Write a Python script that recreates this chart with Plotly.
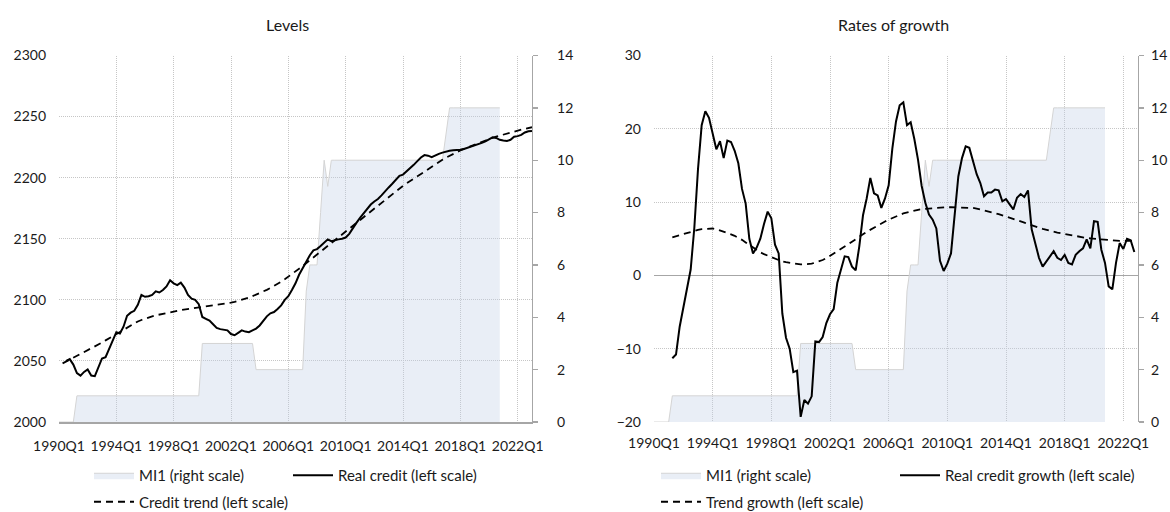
import plotly.graph_objects as go

# ---------------- data ----------------
quarters = [f"{y}Q{q}" for y in range(1990, 2024) for q in range(1, 5)][:133]  # 1990Q1 .. 2023Q1
tick_labels = ["1990Q1", "1994Q1", "1998Q1", "2002Q1", "2006Q1",
               "2010Q1", "2014Q1", "2018Q1", "2022Q1"]

# MI1 index (right scale), 1990Q1 .. 2020Q4
mi1_start = "1990Q1"
mi1 = [0, 0, 0, 0, 0,
       1, 1, 1, 1, 1, 1, 1, 1, 1, 1, 1, 1, 1, 1, 1, 1, 1, 1, 1, 1, 1, 1, 1, 1, 1, 1, 1, 1, 1, 1, 1, 1, 1, 1, 1,
       3, 3, 3, 3, 3, 3, 3, 3, 3, 3, 3, 3, 3, 3, 3,
       2, 2, 2, 2, 2, 2, 2, 2, 2, 2, 2, 2, 2, 2,
       5, 6, 6, 6, 8, 10, 9,
       10, 10, 10, 10, 10, 10, 10, 10, 10, 10, 10, 10, 10, 10, 10, 10,
       10, 10, 10, 10, 10, 10, 10, 10, 10, 10, 10, 10, 10, 10, 10, 10,
       11,
       12, 12, 12, 12, 12, 12, 12, 12, 12, 12, 12, 12, 12, 12, 12]

# Real credit level (left scale), from 1990Q3
real_credit_start = "1990Q3"
real_credit = [2050, 2051.5, 2047, 2040, 2038, 2041, 2043, 2038, 2037.5, 2045,
               2052, 2053, 2060, 2067, 2073.5, 2072.5, 2078, 2087, 2089.5, 2091,
               2096, 2104, 2102.5, 2103, 2104, 2107, 2106, 2108, 2111, 2116,
               2113.5, 2112, 2114, 2110, 2104, 2101, 2100, 2096.5, 2086, 2084.5,
               2083, 2080, 2077, 2076, 2075.5, 2075, 2072, 2071, 2073, 2075,
               2074, 2073.5, 2075, 2076.5, 2079, 2082.5, 2086.5, 2089, 2090, 2092.5,
               2095.5, 2100, 2103, 2108, 2113.5, 2120.5, 2126, 2131, 2136.5, 2140.5,
               2141.5, 2144, 2147, 2149.5, 2148, 2149, 2149.5, 2150, 2151, 2154,
               2159, 2163, 2167, 2170.5, 2174, 2178, 2180.5, 2182.5, 2185.5, 2189,
               2192, 2195, 2198.5, 2201.5, 2202.5, 2205, 2207.5, 2210.5, 2213.5, 2216.5,
               2218.5, 2218, 2216.8, 2218.5, 2219.5, 2220.5, 2221.5, 2222, 2222.5, 2222.5,
               2222.8, 2223.5, 2224.5, 2225, 2226, 2227.2, 2228.5, 2229.8, 2231.5, 2233,
               2232.5, 2231, 2230.4, 2230, 2231, 2233.5, 2234, 2235, 2237, 2238, 2238.3]

# Credit trend level (left scale), from 1990Q2
credit_trend_start = "1990Q2"
credit_trend = [2048.0, 2049.5, 2051, 2052.5, 2054, 2055.5, 2057, 2058.5, 2060, 2061.8,
                2063.5, 2065, 2066.8, 2068.5, 2070.5, 2072.3, 2074, 2075.8, 2077.5, 2079.3,
                2081, 2082.3, 2083.5, 2084.7, 2085.7, 2086.5, 2087.3, 2088, 2088.6, 2089.2,
                2089.8, 2090.4, 2091, 2091.6, 2092, 2092.4, 2092.8, 2093.2, 2093.5, 2093.9,
                2094.3, 2094.7, 2095.1, 2095.5, 2096, 2096.5, 2097.1, 2097.7, 2098.4, 2099.1,
                2100, 2100.9, 2101.8, 2103, 2104.2, 2105.5, 2106.8, 2108.2, 2109.7, 2111.3,
                2113, 2114.8, 2116.8, 2118.8, 2121, 2123.2, 2125.5, 2127.7, 2130, 2132.3,
                2134.7, 2137.1, 2139.5, 2141.8, 2144.3, 2146.7, 2149, 2151.3, 2153.6, 2156,
                2158.3, 2160.6, 2162.9, 2165.2, 2167.6, 2170, 2172.4, 2174.8, 2177.2, 2179.5,
                2181.9, 2184.3, 2186.7, 2189, 2191.2, 2193.3, 2195.3, 2197.3, 2199.2, 2201.2,
                2203.2, 2205.2, 2207.2, 2209.1, 2211, 2212.8, 2214.6, 2216.4, 2218, 2219.5,
                2220.9, 2222.3, 2223.6, 2224.8, 2226, 2227.2, 2228.3, 2229.4, 2230.5, 2231.6,
                2232.6, 2233.6, 2234.5, 2235.4, 2236.2, 2237, 2237.8, 2238.6, 2239.3, 2240,
                2240.7, 2241.3]

# Real credit growth (left scale, %), from 1991Q2
growth_start = "1991Q2"
real_growth = [-11.3, -10.8, -7.0, -4.5, -2.0, 0.8, 6.5, 14.5, 20.5, 22.4,
               21.5, 19.5, 17.2, 18.3, 16.0, 18.4, 18.2, 17.0, 15.3, 11.8,
               9.8, 5.0, 3.0, 3.8, 5.0, 7.0, 8.7, 7.8, 4.2, 3.0,
               -5.2, -8.5, -10.0, -13.2, -13.0, -19.3, -17.0, -17.5, -16.5, -9.0,
               -9.1, -8.4, -6.5, -5.3, -4.6, -1.0, 1.0, 2.6, 2.5, 1.2,
               0.7, 4.0, 8.2, 10.5, 13.3, 11.2, 10.9, 9.2, 10.5, 12.3,
               17.3, 21.0, 23.2, 23.6, 20.5, 20.9, 18.6, 15.8, 12.2, 9.9,
               8.3, 7.6, 6.4, 2.0, 0.6, 1.6, 3.0, 8.5, 13.5, 16.0,
               17.6, 17.4, 15.4, 13.8, 12.6, 10.8, 11.3, 11.3, 11.7, 11.6,
               10.1, 10.4, 9.7, 9.0, 10.6, 11.1, 10.7, 11.6, 6.3, 4.2,
               2.4, 1.2, 1.9, 2.6, 3.3, 2.4, 2.1, 2.8, 1.7, 1.5,
               2.8, 3.3, 3.7, 4.9, 3.7, 7.4, 7.3, 3.5, 1.7, -1.5,
               -1.9, 1.7, 4.4, 3.6, 5.0, 4.8, 3.2]

# Trend growth (left scale, %), from 1991Q2
trend_growth = [5.2, 5.35, 5.5, 5.65, 5.85, 6.0, 6.1, 6.2, 6.3, 6.35,
                6.4, 6.4, 6.3, 6.15, 6.0, 5.8, 5.6, 5.4, 5.15, 4.85,
                4.5, 4.15, 3.8, 3.45, 3.15, 2.9, 2.7, 2.45, 2.25, 2.05,
                1.9, 1.8, 1.7, 1.6, 1.55, 1.5, 1.5, 1.5, 1.6, 1.75,
                1.9, 2.1, 2.35, 2.65, 2.95, 3.3, 3.65, 3.95, 4.25, 4.6,
                4.9, 5.25, 5.6, 5.95, 6.25, 6.55, 6.85, 7.1, 7.35, 7.6,
                7.85, 8.05, 8.25, 8.45, 8.6, 8.75, 8.85, 8.95, 9.05, 9.1,
                9.15, 9.2, 9.2, 9.25, 9.25, 9.3, 9.3, 9.3, 9.3, 9.3,
                9.3, 9.25, 9.2, 9.1, 9.0, 8.9, 8.8, 8.65, 8.5, 8.35,
                8.2, 8.05, 7.9, 7.75, 7.6, 7.4, 7.2, 7.0, 6.8, 6.65,
                6.5, 6.35, 6.2, 6.05, 5.95, 5.85, 5.75, 5.65, 5.55, 5.45,
                5.35, 5.25, 5.15, 5.1, 5.05, 5.0, 4.95, 4.9, 4.85, 4.8,
                4.75, 4.75, 4.7, 4.7, 4.7, 4.7, 4.7]


def xs(start, values):
    i = quarters.index(start)
    return quarters[i:i + len(values)]


# ---------------- styling ----------------
W, H = 1170, 512
FONT = "Lato"
TXT = "#1a1a1a"
GRID = "#c6c6c6"
AXLINE = "#a6a6a6"
AREA_FILL = "rgba(192,206,229,0.35)"
AREA_LINE = "#d4d4d4"


def px_x(p):
    return p / W


def px_y(p):
    return 1 - p / H


dom_y = [px_y(422), px_y(55.5)]
dom_left = [px_x(59), px_x(532)]
dom_right = [px_x(654), px_x(1138)]

fig = go.Figure()

# ---- left chart: Levels ----
fig.add_trace(go.Scatter(
    x=xs(mi1_start, mi1), y=mi1, name="MI1 (right scale)",
    mode="lines", fill="tozeroy", fillcolor=AREA_FILL,
    line=dict(color=AREA_LINE, width=1),
    xaxis="x", yaxis="y", legend="legend", legendgroup="a1"))
fig.add_trace(go.Scatter(
    x=xs(real_credit_start, real_credit), y=real_credit, name="Real credit (left scale)",
    mode="lines", line=dict(color="black", width=2),
    xaxis="x", yaxis="y2", legend="legend2", legendgroup="a2"))
fig.add_trace(go.Scatter(
    x=xs(credit_trend_start, credit_trend), y=credit_trend, name="Credit trend (left scale)",
    mode="lines", line=dict(color="black", width=1.8, dash="7px,5px"),
    xaxis="x", yaxis="y2", legend="legend", legendgroup="a3"))

# ---- right chart: Rates of growth ----
fig.add_trace(go.Scatter(
    x=xs(mi1_start, mi1), y=mi1, name="MI1 (right scale)",
    mode="lines", fill="tozeroy", fillcolor=AREA_FILL,
    line=dict(color=AREA_LINE, width=1),
    xaxis="x2", yaxis="y3", legend="legend3", legendgroup="b1"))
fig.add_trace(go.Scatter(
    x=xs(growth_start, real_growth), y=real_growth, name="Real credit growth (left scale)",
    mode="lines", line=dict(color="black", width=2),
    xaxis="x2", yaxis="y4", legend="legend4", legendgroup="b2"))
fig.add_trace(go.Scatter(
    x=xs(growth_start, trend_growth), y=trend_growth, name="Trend growth (left scale)",
    mode="lines", line=dict(color="black", width=1.8, dash="7px,5px"),
    xaxis="x2", yaxis="y4", legend="legend3", legendgroup="b3"))

tickfont = dict(family=FONT, size=14, color=TXT)

xcommon = dict(
    type="category", categoryorder="array", categoryarray=quarters,
    range=[0, 132], tickmode="array", tickvals=tick_labels, ticktext=tick_labels,
    showgrid=True, gridcolor=GRID, griddash="1px,1px", gridwidth=1,
    ticks="", ticklabelstandoff=11, tickfont=tickfont, zeroline=False,
    automargin=False, fixedrange=True)

right_axis = dict(
    side="right", range=[0, 14], tickmode="linear", tick0=0, dtick=2,
    showgrid=False, showline=True, linecolor=AXLINE, linewidth=1.3,
    ticks="outside", ticklen=5, tickcolor=AXLINE, tickwidth=1.3,
    tickfont=tickfont, zeroline=False, automargin=False)

left_axis = dict(
    side="left", showgrid=True, gridcolor=GRID, griddash="1px,1px", gridwidth=1,
    showline=False, ticks="", ticklabelstandoff=12, tickfont=tickfont,
    automargin=False)

legend_common = dict(
    orientation="v", font=dict(family=FONT, size=15, color=TXT),
    bgcolor="rgba(0,0,0,0)", borderwidth=0, itemwidth=40,
    tracegroupgap=4, xanchor="left", yanchor="top", traceorder="grouped",
    itemclick=False, itemdoubleclick=False)

leg_y = px_y(459)

fig.update_layout(
    width=W, height=H,
    margin=dict(l=0, r=0, t=0, b=0, autoexpand=False),
    paper_bgcolor="white", plot_bgcolor="rgba(0,0,0,0)",
    font=dict(family=FONT, color=TXT),
    showlegend=True,
    xaxis=dict(xcommon, domain=dom_left, anchor="y",
               showline=True, linecolor=AXLINE, linewidth=1.5),
    yaxis=dict(right_axis, domain=dom_y, anchor="x", ticklabelstandoff=16),
    yaxis2=dict(left_axis, overlaying="y", anchor="x", range=[2000, 2300],
                tickmode="linear", tick0=2000, dtick=50, zeroline=False),
    xaxis2=dict(xcommon, domain=dom_right, anchor="y3", showline=False),
    yaxis3=dict(right_axis, domain=dom_y, anchor="x2", ticklabelstandoff=4),
    yaxis4=dict(left_axis, overlaying="y3", anchor="x2", range=[-20, 30],
                tickmode="linear", tick0=-20, dtick=10,
                zeroline=True, zerolinecolor=AXLINE, zerolinewidth=1.5),
    legend=dict(legend_common, x=px_x(89), y=leg_y),
    legend2=dict(legend_common, x=px_x(288), y=leg_y),
    legend3=dict(legend_common, x=px_x(656), y=leg_y),
    legend4=dict(legend_common, x=px_x(895), y=leg_y),
    annotations=[
        dict(text="Levels", x=px_x(287), y=px_y(24), xref="paper", yref="paper",
             showarrow=False, xanchor="center", yanchor="middle",
             font=dict(family=FONT, size=16, color=TXT)),
        dict(text="Rates of growth", x=px_x(893), y=px_y(24), xref="paper", yref="paper",
             showarrow=False, xanchor="center", yanchor="middle",
             font=dict(family=FONT, size=16, color=TXT)),
    ],
)

fig.write_html("out.html",
               config={"displayModeBar": False, "staticPlot": True},
               post_script="document.body.style.margin='0';document.body.style.overflow='hidden';")
